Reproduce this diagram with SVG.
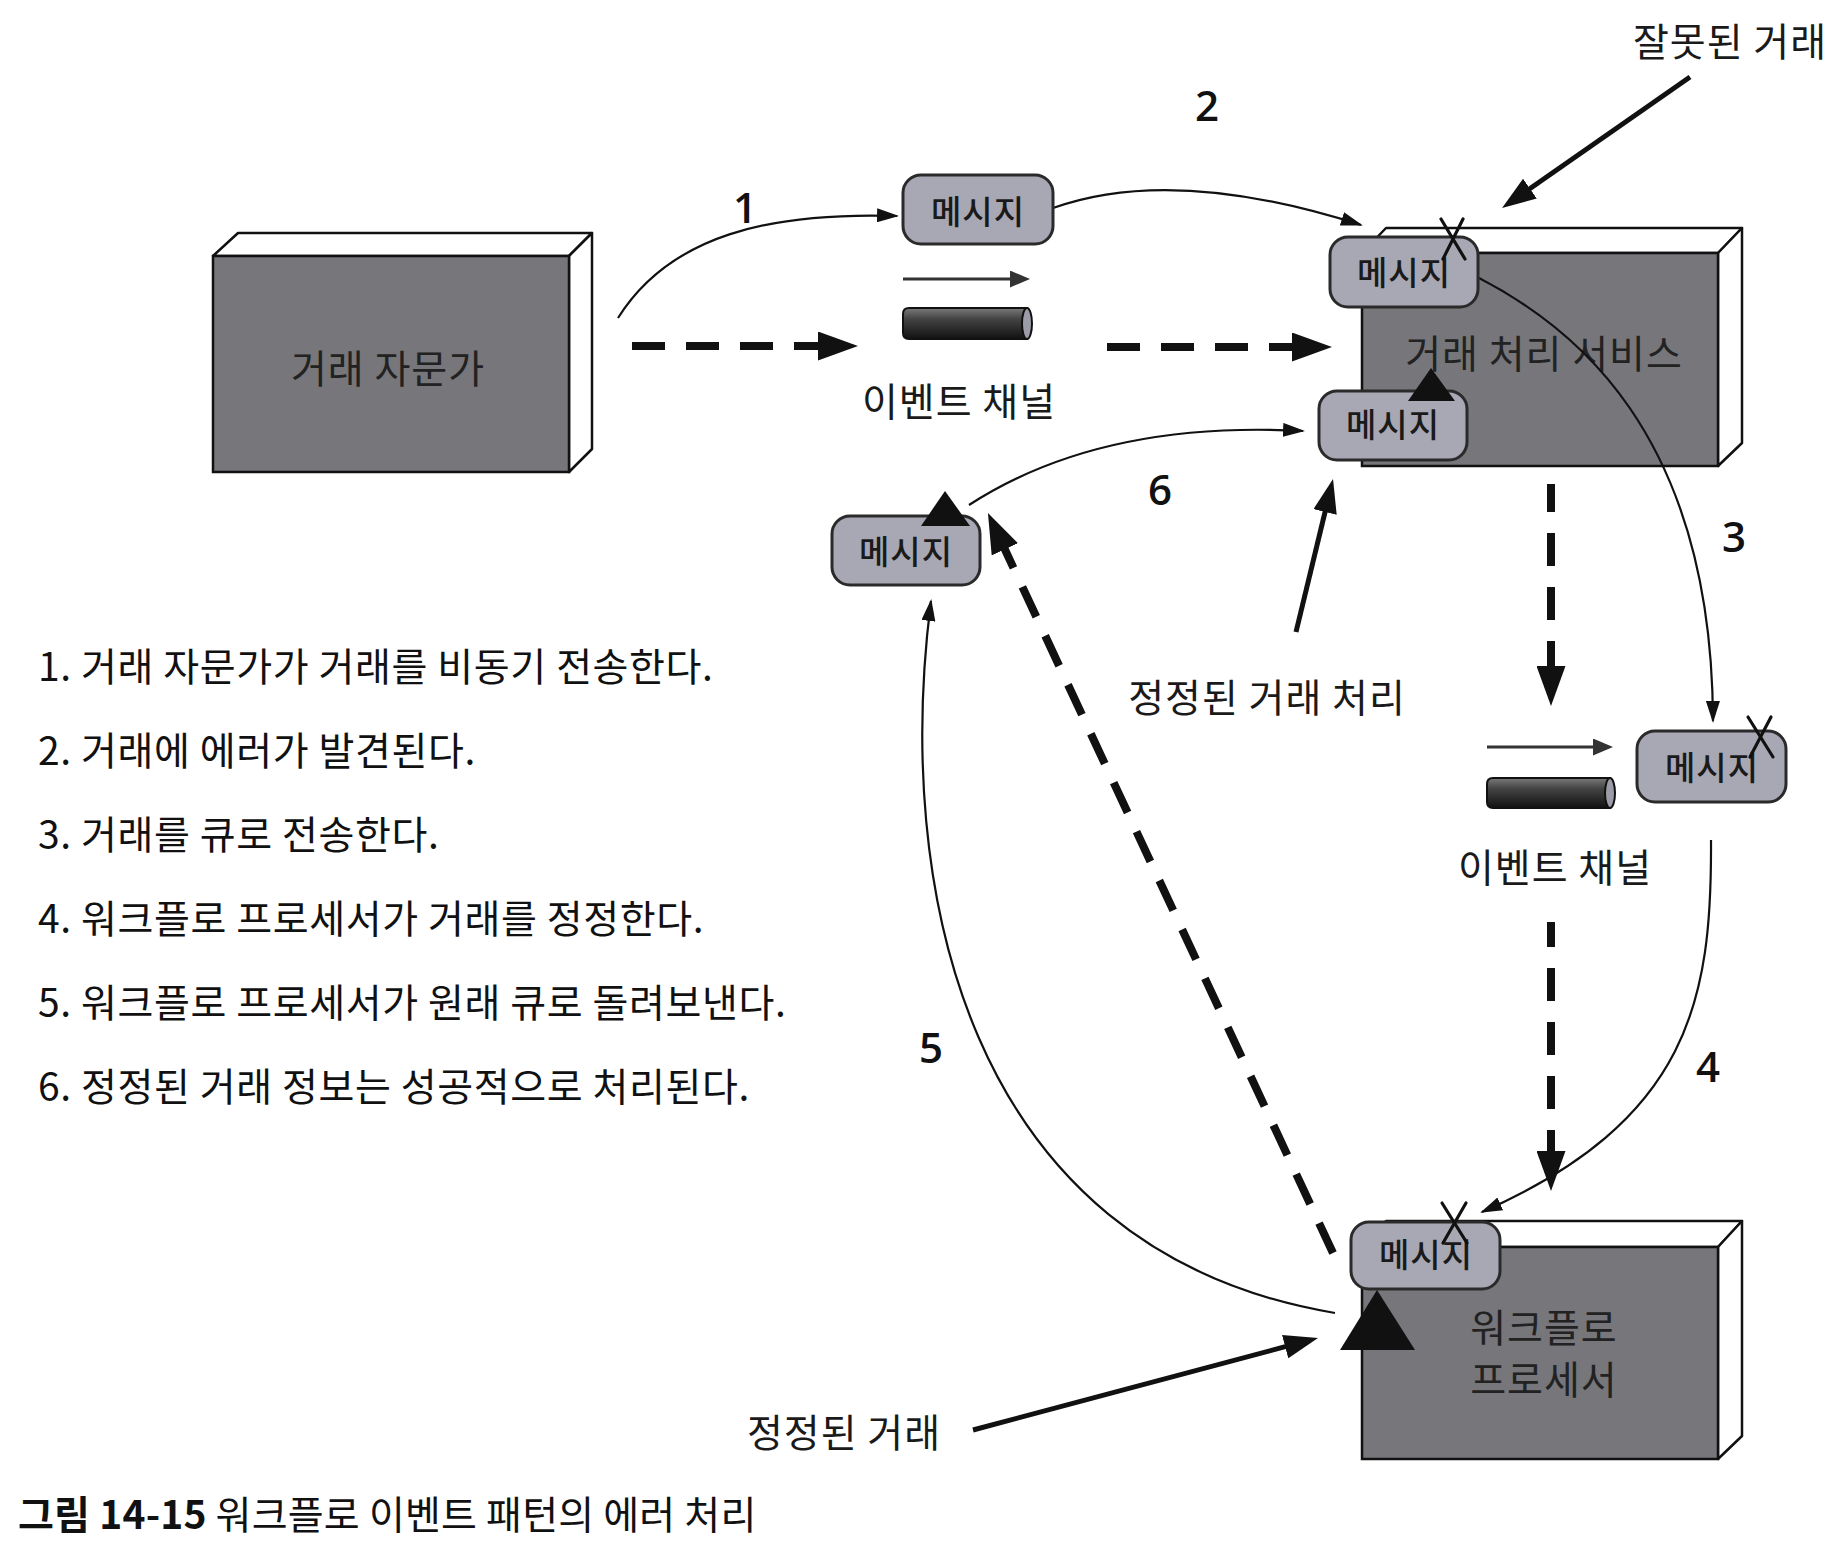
<svg xmlns="http://www.w3.org/2000/svg" width="1842" height="1554" viewBox="0 0 1842 1554">
<style>
.front{fill:#76767b;stroke:#111;stroke-width:2.5}
.side{fill:#fff;stroke:#111;stroke-width:2.5;stroke-linejoin:round}
.msg{fill:#a8a8b4;stroke:#2a2a2a;stroke-width:3}
.t{font-family:"Noto Sans CJK KR","Noto Sans",sans-serif;fill:#1a1a1a}
.box{font-size:39px;letter-spacing:1px;text-anchor:middle;fill:#222}
.lbl{font-size:39px;letter-spacing:1px;text-anchor:middle}
.mt{font-size:33px;letter-spacing:1px;font-weight:500;text-anchor:middle}
.list{font-size:39px;letter-spacing:0.6px;fill:#111}
.cap{font-size:39px;letter-spacing:0.2px;fill:#111}
.num{font-family:"Open Sans","Noto Sans",sans-serif;font-weight:600;font-size:42px;text-anchor:middle;fill:#111}
.thin{fill:none;stroke:#111;stroke-width:2.2}
.thick{fill:none;stroke:#111;stroke-width:5}
.dash{fill:none;stroke:#111;stroke-width:8;stroke-dasharray:33 21}
.parr{fill:none;stroke:#333;stroke-width:3}
.x{stroke:#111;stroke-width:3.2;stroke-linecap:round}
.tri{fill:#111}
.pipe{fill:url(#pg);stroke:#111;stroke-width:2}
.pcap{fill:#9c9ca8;stroke:#111;stroke-width:2}
</style>
<defs>
<linearGradient id="pg" x1="0" y1="0" x2="0" y2="1">
<stop offset="0" stop-color="#7a7a7a"/>
<stop offset="0.35" stop-color="#444"/>
<stop offset="1" stop-color="#111"/>
</linearGradient>
<marker id="mThin" markerUnits="userSpaceOnUse" viewBox="0 0 22 14" markerWidth="22" markerHeight="14" refX="20" refY="7" orient="auto"><path d="M0,0 L22,7 L0,14 z" fill="#111"/></marker>
<marker id="mThick" markerUnits="userSpaceOnUse" viewBox="0 0 34 24" markerWidth="34" markerHeight="24" refX="2" refY="12" orient="auto"><path d="M0,0 L34,12 L0,24 z" fill="#111"/></marker>
<marker id="mDash" markerUnits="userSpaceOnUse" viewBox="0 0 40 29" markerWidth="40" markerHeight="29" refX="2" refY="14.5" orient="auto"><path d="M0,0 L40,14.5 L0,29 z" fill="#111"/></marker>
<marker id="mPipe" markerUnits="userSpaceOnUse" viewBox="0 0 20 17" markerWidth="20" markerHeight="17" refX="2" refY="8.5" orient="auto"><path d="M0,0 L20,8.5 L0,17 z" fill="#333"/></marker>
</defs>
<rect width="1842" height="1554" fill="#fff"/>

<g id="node-advisor">
<polygon class="side" points="213,256 238,233 592,233 569,256"/>
<polygon class="side" points="569,256 592,233 592,449 569,472"/>
<rect class="front" x="213" y="256" width="356" height="216"/>
<text class="t box" x="388" y="383">거래 자문가</text>
</g>

<g id="node-tps">
<polygon class="side" points="1362,253 1386,228 1742,228 1718,253"/>
<polygon class="side" points="1718,253 1742,228 1742,443 1718,466"/>
<rect class="front" x="1362" y="253" width="356" height="213"/>
<text class="t box" x="1544" y="368">거래 처리 서비스</text>
</g>

<g id="node-workflow">
<polygon class="side" points="1362,1247 1386,1221 1742,1221 1718,1247"/>
<polygon class="side" points="1718,1247 1742,1221 1742,1436 1718,1459"/>
<rect class="front" x="1362" y="1247" width="356" height="212"/>
<text class="t box" x="1544" y="1342">워크플로</text>
<text class="t box" x="1544" y="1394">프로세서</text>
</g>

<g id="channel-1">
<path class="parr" d="M903,279 L1012,279" marker-end="url(#mPipe)"/>
<path class="pipe" d="M909,308 L1027,308 L1027,339 L909,339 Q903,339 903,333 L903,314 Q903,308 909,308 z"/>
<ellipse class="pcap" cx="1027" cy="323.5" rx="5" ry="15.5"/>
<text class="t lbl" x="959" y="416">이벤트 채널</text>
</g>

<g id="channel-2">
<path class="parr" d="M1487,747 L1595,747" marker-end="url(#mPipe)"/>
<path class="pipe" d="M1493,778 L1610,778 L1610,808 L1493,808 Q1487,808 1487,802 L1487,784 Q1487,778 1493,778 z"/>
<ellipse class="pcap" cx="1610" cy="793" rx="5" ry="15"/>
<text class="t lbl" x="1555" y="882">이벤트 채널</text>
</g>

<g id="connectors">
<path class="thin" d="M618,318 C670,235 770,212 897,216" marker-end="url(#mThin)"/>
<path class="thin" d="M1053,208 Q1173,165 1361,225" marker-end="url(#mThin)"/>
<path class="thin" d="M1479,278 C1570,325 1712,430 1713,721" marker-end="url(#mThin)"/>
<path class="thin" d="M1711,840 C1712,1000 1690,1120 1482,1212" marker-end="url(#mThin)"/>
<path class="thin" d="M1335,1313 C960,1250 895,880 931,601" marker-end="url(#mThin)"/>
<path class="thin" d="M969,505 Q1100,420 1303,431" marker-end="url(#mThin)"/>
<path class="dash" d="M632,346 L820,346" marker-end="url(#mDash)"/>
<path class="dash" d="M1107,347 L1294,347" marker-end="url(#mDash)"/>
<path class="dash" style="stroke-dashoffset:5" d="M1551,484 L1551,668" marker-end="url(#mDash)"/>
<path class="dash" style="stroke-dashoffset:8" d="M1551,922 L1551,1153" marker-end="url(#mDash)"/>
<path class="dash" d="M1333,1253 L1004,547.5" marker-end="url(#mDash)"/>
<path class="thick" d="M1690,77 L1528.3,189.7" marker-end="url(#mThick)"/>
<path class="thick" d="M1296,632 L1325.5,510.1" marker-end="url(#mThick)"/>
<path class="thick" d="M973,1430 L1287.1,1346.2" marker-end="url(#mThick)"/>
</g>

<g id="msg-1">
<rect class="msg" x="903" y="175" width="150" height="69" rx="18"/>
<text class="t mt" x="978" y="224">메시지</text>
</g>
<g id="msg-tps-bad">
<rect class="msg" x="1330" y="237" width="148" height="70" rx="18"/>
<text class="t mt" x="1404" y="285">메시지</text>
<line class="x" x1="1441" y1="219" x2="1465" y2="259"/>
<line class="x" x1="1463" y1="219" x2="1443" y2="259"/>
</g>
<g id="msg-tps-fixed">
<rect class="msg" x="1319" y="391" width="148" height="69" rx="18"/>
<text class="t mt" x="1393" y="437">메시지</text>
<polygon class="tri" points="1431,368 1455,401 1408,401"/>
</g>
<g id="msg-left">
<rect class="msg" x="832" y="516" width="148" height="69" rx="18"/>
<text class="t mt" x="906" y="564">메시지</text>
<polygon class="tri" points="945,491 970,526 921,526"/>
</g>
<g id="msg-queue">
<rect class="msg" x="1637" y="731" width="149" height="71" rx="18"/>
<text class="t mt" x="1712" y="780">메시지</text>
<line class="x" x1="1748" y1="717" x2="1773" y2="757"/>
<line class="x" x1="1771" y1="717" x2="1750" y2="757"/>
</g>
<g id="msg-workflow">
<rect class="msg" x="1351" y="1222" width="149" height="67" rx="18"/>
<text class="t mt" x="1426" y="1267">메시지</text>
<line class="x" x1="1442" y1="1203" x2="1467" y2="1243"/>
<line class="x" x1="1466" y1="1203" x2="1443" y2="1243"/>
<polygon class="tri" points="1377,1290 1415,1350 1340,1350"/>
</g>

<g id="labels">
<text class="num" x="745" y="223">1</text>
<text class="num" x="1207" y="121">2</text>
<text class="num" x="1734" y="552">3</text>
<text class="num" x="1708" y="1082">4</text>
<text class="num" x="931" y="1063">5</text>
<text class="num" x="1160" y="505">6</text>
<text class="t lbl" x="1730" y="56">잘못된 거래</text>
<text class="t lbl" x="1267" y="712">정정된 거래 처리</text>
<text class="t lbl" x="844" y="1447">정정된 거래</text>
</g>

<g id="legend">
<text class="t list" x="38" y="681">1. 거래 자문가가 거래를 비동기 전송한다.</text>
<text class="t list" x="38" y="765">2. 거래에 에러가 발견된다.</text>
<text class="t list" x="38" y="849">3. 거래를 큐로 전송한다.</text>
<text class="t list" x="38" y="933">4. 워크플로 프로세서가 거래를 정정한다.</text>
<text class="t list" x="38" y="1017">5. 워크플로 프로세서가 원래 큐로 돌려보낸다.</text>
<text class="t list" x="38" y="1101">6. 정정된 거래 정보는 성공적으로 처리된다.</text>
</g>

<g id="caption">
<text class="t cap" x="18" y="1529"><tspan font-weight="bold">그림 14-15</tspan> 워크플로 이벤트 패턴의 에러 처리</text>
</g>
</svg>
